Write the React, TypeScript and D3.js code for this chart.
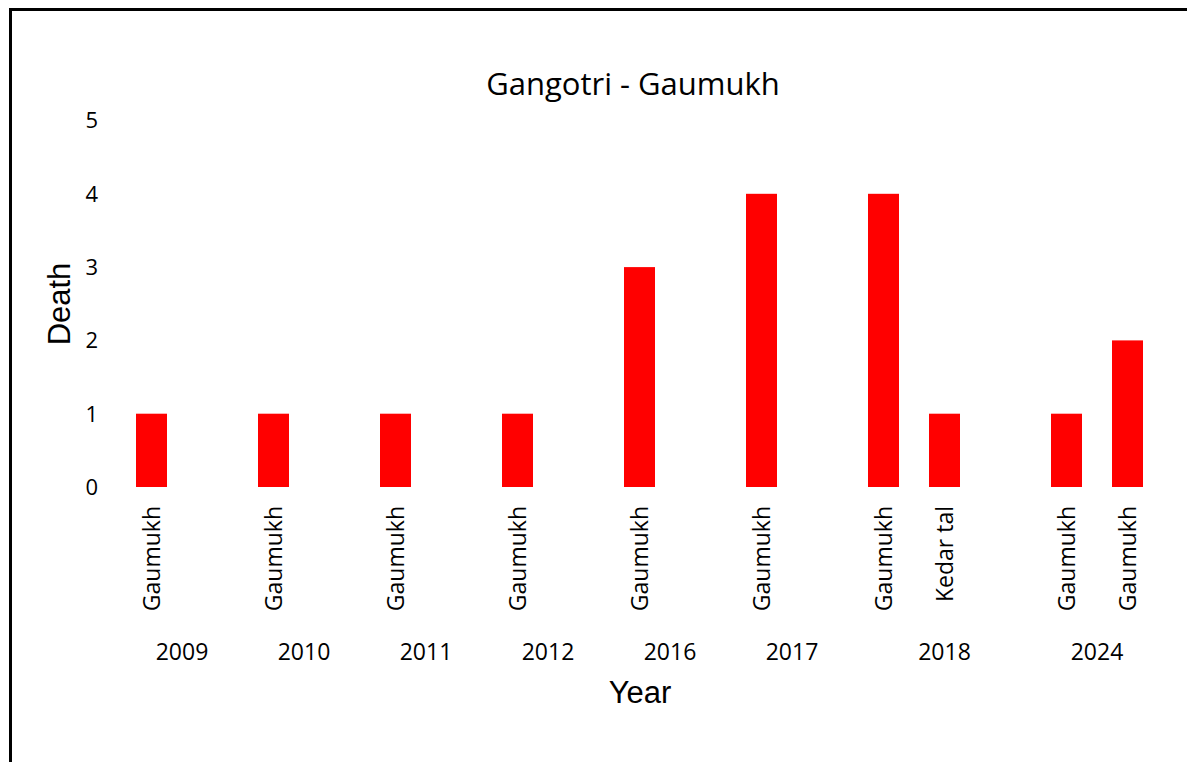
import React from "react";
import * as d3 from "d3";

const title = "Gangotri - Gaumukh";
const xTitle = "Year";
const yTitle = "Death";
const years = ["2009", "2010", "2011", "2012", "2016", "2017", "2018", "2024"];
const barYears = ["2009", "2010", "2011", "2012", "2016", "2017", "2018", "2018", "2024", "2024"];
const barPlaces = ["Gaumukh", "Gaumukh", "Gaumukh", "Gaumukh", "Gaumukh", "Gaumukh", "Gaumukh", "Kedar tal", "Gaumukh", "Gaumukh"];
const deaths = [1, 1, 1, 1, 3, 4, 4, 1, 1, 2];
const yTicks = [0, 1, 2, 3, 4, 5];

const W = 1187;
const H = 762;
const calibri = "'Open Sans', 'Noto Sans', sans-serif";
const arial = "'Liberation Sans', Arial, sans-serif";

type Slot = { id: string; year: string; bar: number | null };

export default function App() {
  // Build category slots: bars of each year followed by one blank slot (except the last year)
  const slots: Slot[] = [];
  years.forEach((yr, yi) => {
    barYears.forEach((by, bi) => {
      if (by === yr) slots.push({ id: `b${bi}`, year: yr, bar: bi });
    });
    if (yi < years.length - 1) slots.push({ id: `blank${yi}`, year: yr, bar: null });
  });

  const x = d3
    .scaleBand<string>()
    .domain(slots.map((s) => s.id))
    .range([121, 1158])
    .paddingInner(30 / 61)
    .paddingOuter(15 / 61);
  const step = x.step();
  const y = d3.scaleLinear().domain([0, 5]).range([487, 120.5]);

  const yearGroups = years.map((yr) => {
    const ss = slots.filter((s) => s.year === yr);
    const first = x(ss[0].id)! - (step - x.bandwidth()) / 2;
    const last = x(ss[ss.length - 1].id)! + x.bandwidth() + (step - x.bandwidth()) / 2;
    return { yr, cx: (first + last) / 2 };
  });

  const bars = slots.filter((s) => s.bar !== null);

  return (
    <svg
      width={W}
      height={H}
      style={{ position: "absolute", left: 0, top: 0, background: "#fff" }}
    >
      <rect x={0} y={0} width={W} height={H} fill="#fff" />
      <path d={`M10.5,${H} V9.5 H${W}`} fill="none" stroke="#000" strokeWidth={3} />

      <text x={633} y={95} textAnchor="middle" fontFamily={calibri} fontSize={31} fill="#000">
        {title}
      </text>

      {yTicks.map((t) => (
        <text
          key={t}
          x={98}
          y={y(t)}
          dy="0.36em"
          textAnchor="end"
          fontFamily={calibri}
          fontSize={22}
          fill="#000"
        >
          {t}
        </text>
      ))}

      {bars.map((s) => {
        const i = s.bar as number;
        return (
          <rect
            key={s.id}
            x={x(s.id)}
            y={y(deaths[i])}
            width={x.bandwidth()}
            height={y(0) - y(deaths[i])}
            fill="#ff0000"
          />
        );
      })}

      {bars.map((s) => {
        const i = s.bar as number;
        const cx = x(s.id)! + x.bandwidth() / 2;
        return (
          <text
            key={"l" + s.id}
            transform={`translate(${cx},506) rotate(-90)`}
            dy="0.36em"
            textAnchor="end"
            fontFamily={calibri}
            fontSize={23}
            fill="#000"
          >
            {barPlaces[i]}
          </text>
        );
      })}

      {yearGroups.map((g) => (
        <text
          key={g.yr}
          x={g.cx}
          y={660}
          textAnchor="middle"
          fontFamily={calibri}
          fontSize={23}
          fill="#000"
        >
          {g.yr}
        </text>
      ))}

      <text x={640} y={703} textAnchor="middle" fontFamily={arial} fontSize={31} fill="#000">
        {xTitle}
      </text>
      <text
        transform={`translate(70,304) rotate(-90)`}
        textAnchor="middle"
        fontFamily={arial}
        fontSize={31}
        fill="#000"
      >
        {yTitle}
      </text>
    </svg>
  );
}
